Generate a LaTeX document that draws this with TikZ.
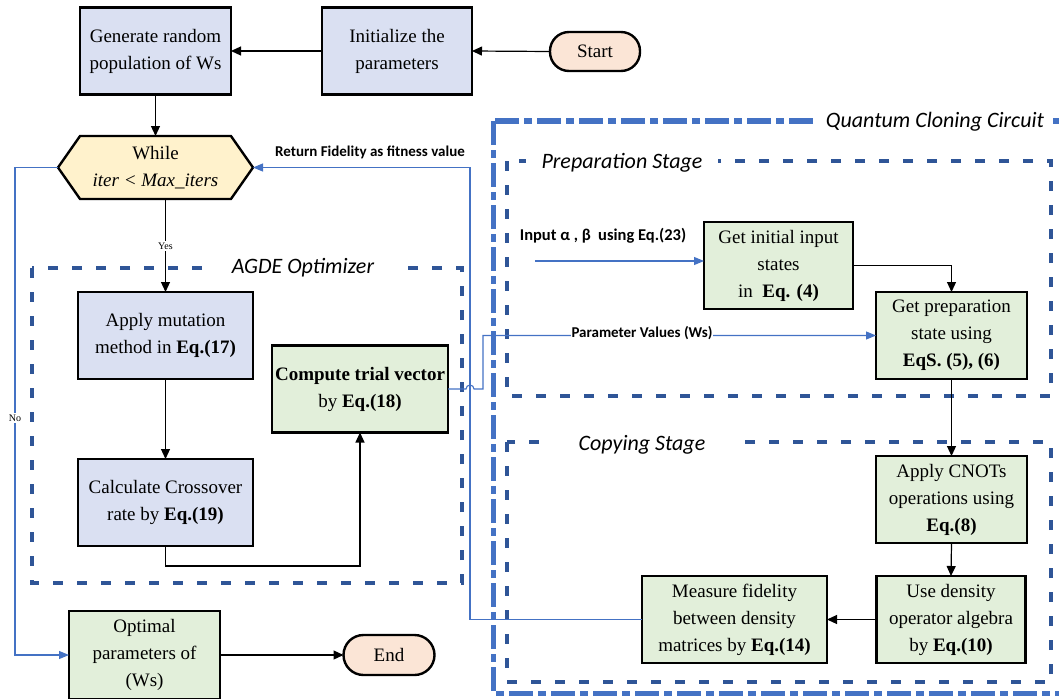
\documentclass[tikz,border=0pt]{standalone}
\usepackage{fontspec}
\setmainfont{Liberation Serif}
\newfontfamily\calfont{Carlito}
\usetikzlibrary{arrows.meta,shapes.symbols,backgrounds}

\definecolor{boxblue}{HTML}{DAE0F2}
\definecolor{boxgreen}{HTML}{E2EFDA}
\definecolor{boxpeach}{HTML}{FBE5D6}
\definecolor{boxyellow}{HTML}{FFF2CC}
\definecolor{framedark}{HTML}{2F5597}
\definecolor{framelight}{HTML}{4472C4}
\definecolor{linkblue}{HTML}{4472C4}

\tikzset{
  every node/.style={inner sep=0pt, outer sep=0pt},
  txt/.style={font=\fontsize{19}{27}\selectfont, align=center},
  procbox/.style={txt, draw=black, line width=2.4pt, minimum height=87pt},
  bluebox/.style={procbox, fill=boxblue},
  greenbox/.style={procbox, fill=boxgreen},
  terminal/.style={txt, draw=black, line width=2.4pt, fill=boxpeach, rounded corners=19pt,
                   minimum width=90pt, minimum height=39pt},
  loophex/.style={txt, draw=black, line width=2.4pt, fill=boxyellow, signal,
                  signal to=west and east, signal pointer angle=110,
                  minimum width=195pt, minimum height=63pt},
  flow/.style={draw=black, line width=1.2pt, -{Triangle[length=10pt,width=9pt]}},
  link/.style={draw=linkblue, line width=1.1pt, -{Triangle[length=10pt,width=8pt]}},
  stageframe/.style={draw=framedark, line width=4pt, dash pattern=on 10pt off 14pt},
  outerframe/.style={draw=framelight, line width=5pt, dash pattern=on 24pt off 5pt on 8pt off 5pt},
  framelabel/.style={font=\calfont\itshape\fontsize{22}{25}\selectfont, fill=white, inner ysep=3pt},
  linklabel/.style={font=\calfont\bfseries\fontsize{15}{18}\selectfont},
  tiny/.style={font=\fontsize{10}{12}\selectfont, fill=white, inner sep=1.5pt},
}

\begin{document}
\begin{tikzpicture}[x=1pt,y=-1pt]
\useasboundingbox (0,0) rectangle (1059,698);

% ---- left column: AGDE loop ----
\node[bluebox, minimum width=151pt] (gen) at (155.5,51) {Generate random\\population of Ws};
\node[bluebox, minimum width=150pt] (init) at (397,51) {Initialize the\\parameters};
\node[terminal] (start) at (595,51.5) {Start};
\node[loophex] (hex) at (155.5,167.5) {While\\{\itshape iter~<~Max\_iters}};
\node[bluebox, minimum width=175pt] (apply) at (165.5,335.5) {Apply mutation\\method in \textbf{Eq.(17)}};
\node[bluebox, minimum width=175pt] (calc) at (165.5,502.5) {Calculate Crossover\\rate by \textbf{Eq.(19)}};
\node[greenbox, minimum width=176pt] (trial) at (360,389) {\textbf{Compute trial vector}\\by \textbf{Eq.(18)}};
\node[greenbox, minimum width=151pt, minimum height=88pt] (opt) at (144.5,655) {Optimal\\parameters of\\(Ws)};
\node[terminal, minimum width=91pt, minimum height=40pt, rounded corners=20pt] (endn) at (389,655) {End};

% ---- right column: cloning circuit ----
\node[greenbox, minimum width=149pt] (getin) at (778.5,265.5) {Get initial input\\states\\in~ \textbf{Eq. (4)}};
\node[greenbox, minimum width=151pt] (prep) at (951.5,335.5) {Get preparation\\state using\\\textbf{EqS. (5), (6)}};
\node[greenbox, minimum width=151pt] (cnot) at (951.5,499.5) {Apply CNOTs\\operations using\\\textbf{Eq.(8)}};
\node[greenbox, minimum width=149pt] (dens) at (951,619.5) {Use density\\operator algebra\\by \textbf{Eq.(10)}};
\node[greenbox, minimum width=185pt] (meas) at (734.5,619.5) {Measure fidelity\\between density\\matrices by \textbf{Eq.(14)}};

% ---- black flow connectors ----
\draw[flow] (init.west) -- (gen.east);
\draw[flow] (start.west) -- (init.east);
\draw[flow] (gen.south) -- (hex.north);
\draw[flow] (apply.north |- hex.south) -- (apply.north);
\draw[flow] (apply.south) -- (calc.north);
\coordinate (crs) at (165.5,566);
\draw[flow] (calc.south) -- (crs) -| (trial.south);
\draw[flow] (opt.east) -- (endn.west);
\draw[flow] (getin.east) -| (prep.north);
\draw[flow] (prep.south) -- (cnot.north);
\draw[flow] (cnot.south) -- (dens.north);
\draw[flow] (dens.west) -- (meas.east);

% ---- blue data links ----
\coordinate (inp) at (535,261);
\draw[link] (inp) -- (getin.west |- inp);
\node[linklabel, font=\calfont\bfseries\fontsize{16.5}{18}\selectfont] (inlbl) at (603,236) {Input α , β ~using Eq.(23)};

\coordinate (ret) at (470,167.5);
\draw[link] (meas.west) -| (ret) -- (hex.east);
\node[linklabel] (retlbl) at (370,152) {Return Fidelity as fitness value};

\coordinate (hopin) at (466,389);
\coordinate (jog) at (483,389);
\draw[link] (trial.east) -- (hopin) arc[start angle=180, end angle=360, radius=4] -- (jog) |- (prep.west);
\node[linklabel, fill=white, inner xsep=1pt] (parlbl) at (642,333) {Parameter Values (Ws)};

\coordinate (nox) at (15,167.5);
\draw[link] (hex.west) -- (nox) |- (opt.west);

\node[tiny] (yes) at (165.5,246) {Yes};
\node[tiny] (no) at (15,418) {No};

% ---- dashed group frames ----
\begin{scope}[on background layer]
  \draw[stageframe] (32,268) rectangle (462,583);
  \node[framelabel, inner xsep=24pt] (agdelbl) at (303,268) {AGDE Optimizer};
  \draw[outerframe] (493,121) rectangle (1068,693);
  \node[framelabel, inner xsep=9pt] (qcclbl) at (935,122) {Quantum Cloning Circuit};
  \draw[stageframe] (507,161) rectangle (1051,396);
  \node[framelabel, inner xsep=16pt] (preplbl) at (622,163) {Preparation Stage};
  \draw[stageframe] (507,442) rectangle (1051,682);
  \node[framelabel, inner xsep=33pt] (copylbl) at (642,445) {Copying Stage};
\end{scope}
\end{tikzpicture}
\end{document}
